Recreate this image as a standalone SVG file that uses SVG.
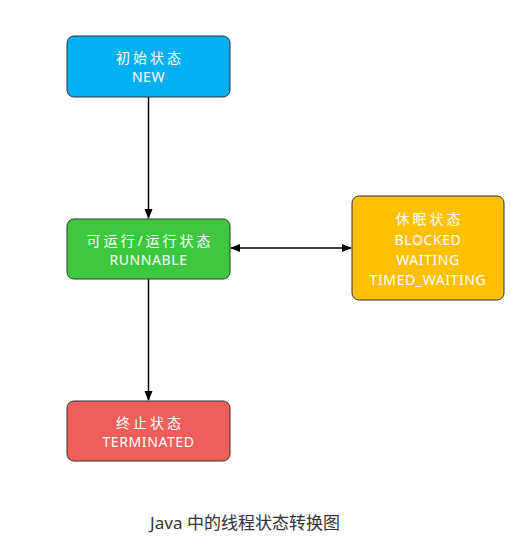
<svg xmlns="http://www.w3.org/2000/svg" width="524" height="547" viewBox="0 0 524 547">
<style>
.box{stroke:#333;stroke-width:1}
.t{fill:#fff;font-family:"Noto Sans","Noto Sans CJK SC",sans-serif;font-size:14px;text-anchor:middle;letter-spacing:0.6px}
.c{letter-spacing:3px}
.e{fill:none;stroke:#000;stroke-width:1.5}
.cap{fill:#333;font-family:"Noto Sans","Noto Sans CJK SC",sans-serif;font-size:17px;text-anchor:middle}
</style>
<defs>
<marker id="a" viewBox="0 0 10 10" refX="9" refY="5" markerWidth="7" markerHeight="7" orient="auto-start-reverse">
<path d="M0,1 L10,5 L0,9 Z" fill="#000"/>
</marker>
</defs>
<rect width="524" height="547" fill="#fff"/>
<g id="connectors">
<line class="e" x1="148.5" y1="97" x2="148.5" y2="218" marker-end="url(#a)"/>
<line class="e" x1="148.5" y1="279" x2="148.5" y2="400" marker-end="url(#a)"/>
<line class="e" x1="231" y1="248" x2="351" y2="248" marker-start="url(#a)" marker-end="url(#a)"/>
</g>
<g id="new">
<rect class="box" x="67" y="36" width="163" height="61" rx="7" fill="#00B0F0"/>
<text class="t c" x="150" y="63">初始状态</text>
<text class="t" x="148.5" y="82">NEW</text>
</g>
<g id="runnable">
<rect class="box" x="67" y="219" width="163" height="60" rx="7" fill="#3EC83F"/>
<text class="t c" x="150" y="246">可运行/运行状态</text>
<text class="t" x="148.5" y="265">RUNNABLE</text>
</g>
<g id="blocked">
<rect class="box" x="352" y="196" width="152" height="104" rx="7" fill="#FFC000"/>
<text class="t c" x="429.5" y="224">休眠状态</text>
<text class="t" x="428" y="245">BLOCKED</text>
<text class="t" x="428" y="265">WAITING</text>
<text class="t" x="428" y="285">TIMED_WAITING</text>
</g>
<g id="terminated">
<rect class="box" x="67" y="401" width="163" height="60" rx="7" fill="#EE5E5B"/>
<text class="t c" x="150" y="428">终止状态</text>
<text class="t" x="148.5" y="447">TERMINATED</text>
</g>
<text class="cap" x="245" y="529">Java 中的线程状态转换图</text>
</svg>
